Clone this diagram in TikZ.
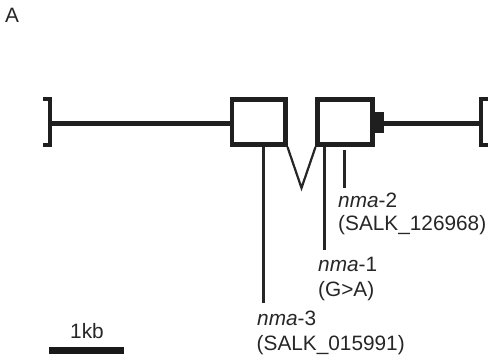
\documentclass[tikz,border=0pt]{standalone}
\usepackage{fontspec}
\setmainfont{Liberation Sans}
\begin{document}
\begin{tikzpicture}[x=1pt,y=-1pt,
  thick line/.style={line width=4.4pt,draw=black!88},
  exonbox/.style={thick line,miter limit=10},
  thin line/.style={line width=2.2pt,draw=black!85},
  lbl/.style={inner sep=0pt,anchor=base west,font=\fontsize{20.8}{24}\selectfont,text=black!85}]
\useasboundingbox (0,0) rectangle (490,355);

% panel letter
\node[lbl] (panel) at (5,23) {A};

% gene ends and intergenic line
\coordinate (lend) at (50,123.5);
\coordinate (rend) at (481,123.5);
\draw[thick line,line join=miter] (43,99) -- (50,99) -- (50,145) -- (43,145);
\draw[thick line,line join=miter] (488,99) -- (481,99) -- (481,145) -- (488,145);

% exons
\draw[exonbox] (232,99.5) rectangle (285.5,144.5);
\draw[exonbox] (317.5,99.5) rectangle (372.5,144.5);
\coordinate (ex1l) at (232,123.5);
\coordinate (ex2r) at (372.5,123.5);
\fill[black!88] (372.5,112) rectangle (383.5,133);
\coordinate (utr) at (383,123.5);
\draw[thick line] (lend) -- (ex1l);
\draw[thick line] (utr) -- (rend);

% intron
\coordinate (i1) at (287.5,147);
\coordinate (iv) at (301.5,188);
\coordinate (i2) at (315.5,147);
\draw[thin line,line join=miter] (i1) -- (iv) -- (i2);

% allele positions
\coordinate (m3a) at (263.5,147);
\coordinate (m3b) at (263.5,303);
\coordinate (m1a) at (324.5,147);
\coordinate (m1b) at (324.5,250);
\coordinate (m2a) at (344.5,150);
\coordinate (m2b) at (344.5,188);
\draw[thin line] (m3a) -- (m3b);
\draw[thin line] (m1a) -- (m1b);
\draw[thin line] (m2a) -- (m2b);

% allele labels
\node[lbl] (n2) at (338,208) {\textit{nma}-2};
\node[lbl] (s2) at (338,230.5) {(SALK\_126968)};
\node[lbl] (n1) at (318,272) {\textit{nma}-1};
\node[lbl] (s1) at (318,296.5) {(G>A)};
\node[lbl] (n3) at (257,325.5) {\textit{nma}-3};
\node[lbl] (s3) at (256.5,350) {(SALK\_015991)};

% scale bar
\node[lbl] (kb) at (70,338) {1kb};
\fill[black!90] (49,347) rectangle (124,354);
\end{tikzpicture}
\end{document}
